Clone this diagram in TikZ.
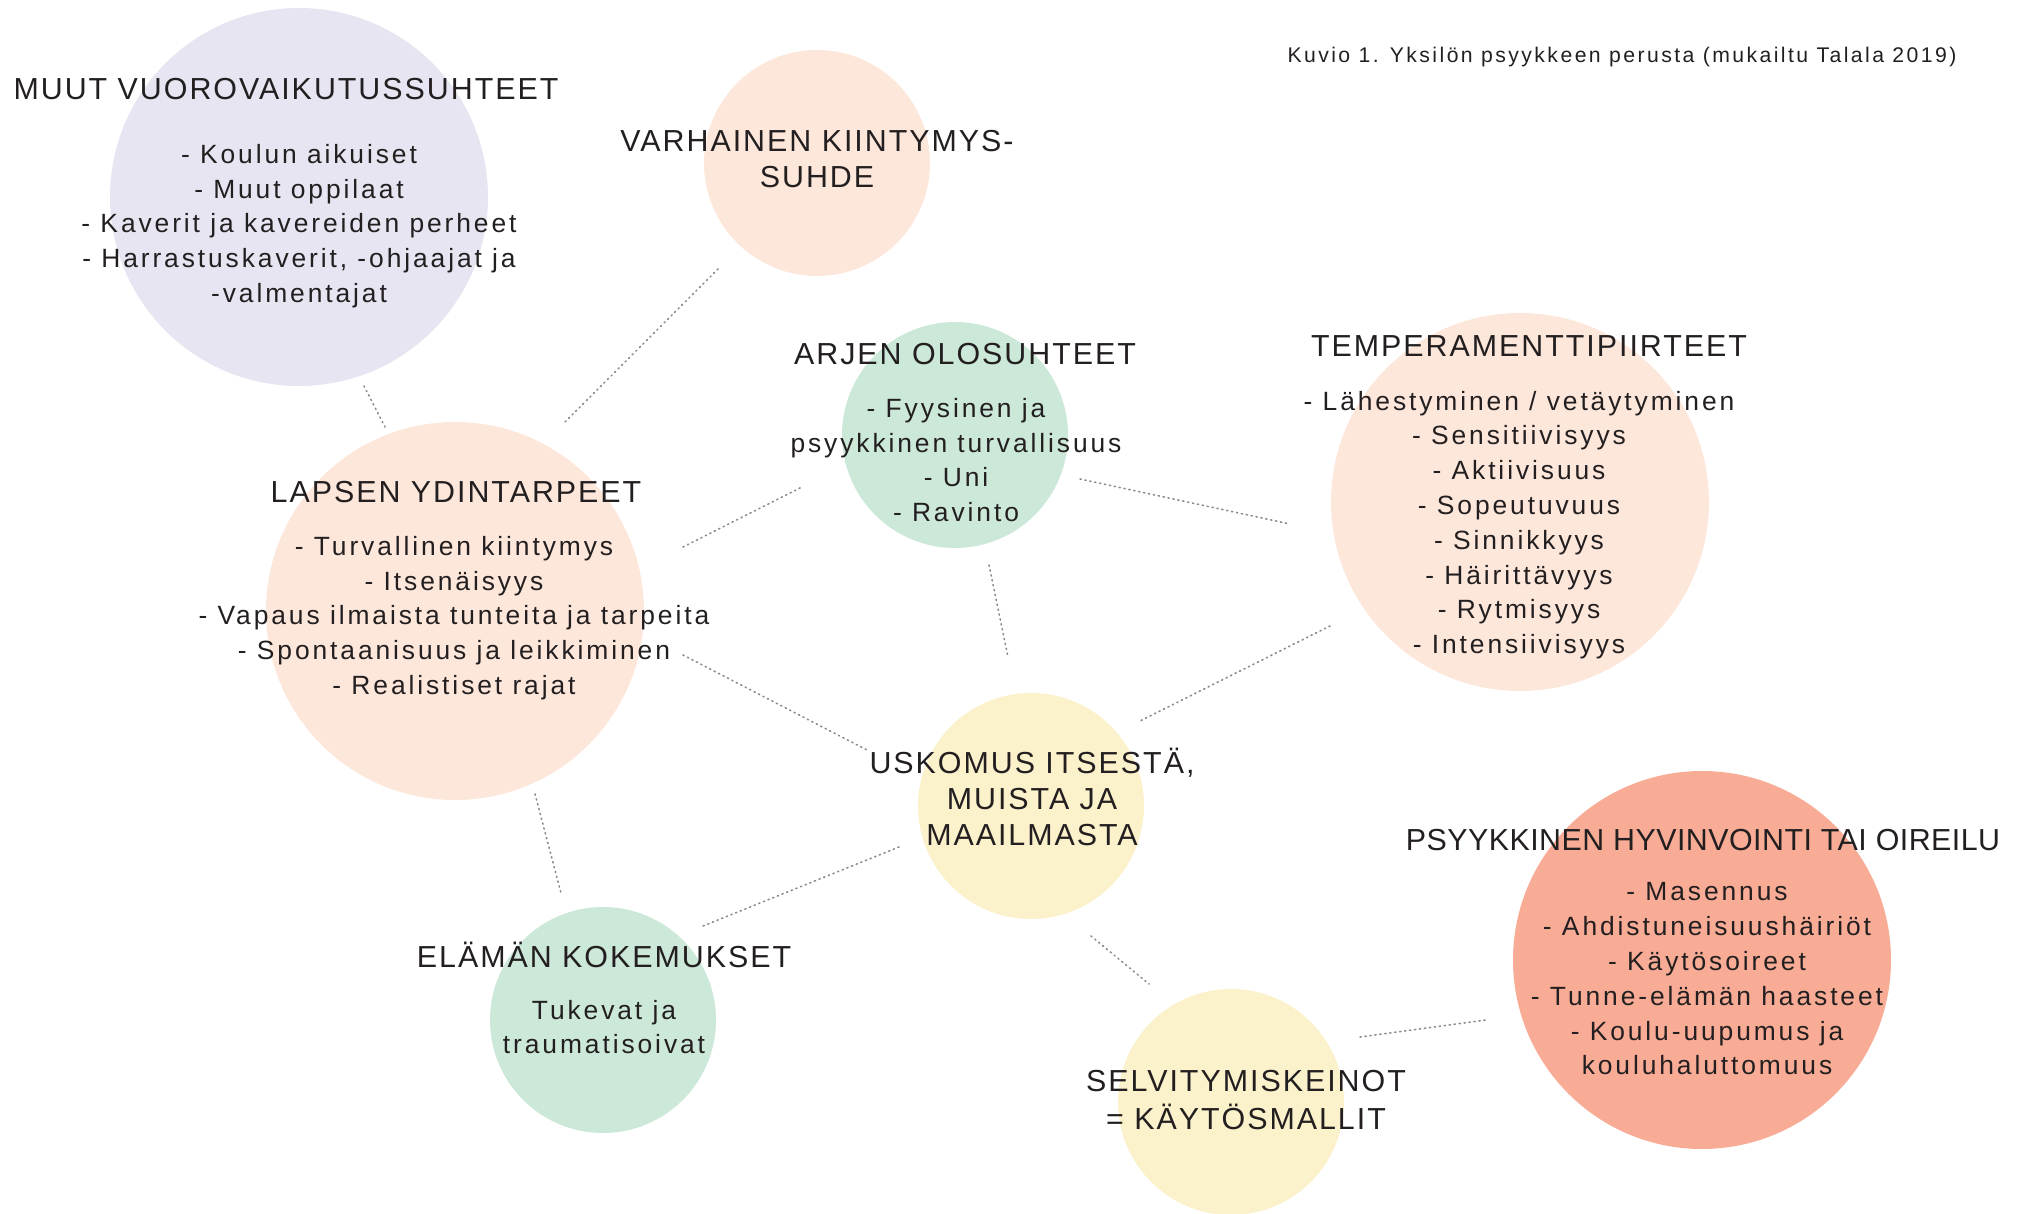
\documentclass[tikz,border=0pt]{standalone}
\usepackage{fontspec}
\setmainfont{Liberation Sans}
\newfontfamily\hdfont{Liberation Sans}[LetterSpace=6.5]
\newfontfamily\hdtightfont{Liberation Sans}[LetterSpace=1.5]
\newfontfamily\bdfont{Liberation Sans}[LetterSpace=11]
\newfontfamily\ttlfont{Liberation Sans}[LetterSpace=11.5]
\definecolor{txt}{HTML}{231F20}
\definecolor{lav}{HTML}{E7E5F1}
\definecolor{peach}{HTML}{FDE7DB}
\definecolor{mint}{HTML}{CCE8D9}
\definecolor{butter}{HTML}{FBF1CB}
\definecolor{salmon}{HTML}{F8AC95}
\definecolor{dotgray}{HTML}{8A8A8A}
\tikzset{
  bigc/.style={circle,inner sep=0pt,minimum size=189pt,draw=none},
  smallc/.style={circle,inner sep=0pt,minimum size=113pt,draw=none},
  hd/.style={text=txt,align=center,font=\hdfont\fontsize{15.2}{17.8}\selectfont},
  hdtight/.style={text=txt,align=center,font=\hdtightfont\fontsize{15.2}{17.8}\selectfont},
  bd/.style={text=txt,align=center,font=\bdfont\fontsize{13.2}{17.4}\selectfont},
  ttl/.style={text=txt,font=\ttlfont\fontsize{10.6}{12}\selectfont},
  link/.style={draw=dotgray,line width=0.8pt,dash pattern=on 0.6pt off 1.9pt,line cap=round}
}
\begin{document}
\begin{tikzpicture}[x=0.5pt,y=-0.5pt]
\useasboundingbox (0,0) rectangle (2018,1214);
% circles
\node[bigc,fill=lav] (muut) at (299,197) {};
\node[smallc,fill=peach] (varh) at (817,163) {};
\node[smallc,fill=mint] (arjen) at (955,435) {};
\node[bigc,fill=peach] (temp) at (1520,502) {};
\node[bigc,fill=peach] (lapsen) at (455,611) {};
\node[smallc,fill=butter] (usk) at (1031,806) {};
\node[smallc,fill=mint] (elam) at (603,1020) {};
\node[smallc,fill=butter] (selv) at (1231,1102) {};
\node[bigc,fill=salmon] (psyyk) at (1702,960) {};
% connector end points
\coordinate (l1a) at (364,386); \coordinate (l1b) at (385,427);
\coordinate (l2a) at (718,269); \coordinate (l2b) at (564,423);
\coordinate (l3a) at (683,547); \coordinate (l3b) at (802,487);
\coordinate (l4a) at (1080,479); \coordinate (l4b) at (1290,524);
\coordinate (l5a) at (989,565); \coordinate (l5b) at (1008,657);
\coordinate (l6a) at (683,655); \coordinate (l6b) at (867,750);
\coordinate (l7a) at (1330,626); \coordinate (l7b) at (1138,722);
\coordinate (l8a) at (535,794); \coordinate (l8b) at (561,893);
\coordinate (l9a) at (899,847); \coordinate (l9b) at (703,926);
\coordinate (l10a) at (1091,936); \coordinate (l10b) at (1149,984);
\coordinate (l11a) at (1360,1037); \coordinate (l11b) at (1486,1020);
\draw[link] (l1a) -- (l1b);
\draw[link] (l2a) -- (l2b);
\draw[link] (l3a) -- (l3b);
\draw[link] (l4a) -- (l4b);
\draw[link] (l5a) -- (l5b);
\draw[link] (l6a) -- (l6b);
\draw[link] (l7a) -- (l7b);
\draw[link] (l8a) -- (l8b);
\draw[link] (l9a) -- (l9b);
\draw[link] (l10a) -- (l10b);
\draw[link] (l11a) -- (l11b);
% texts
\node[ttl] (title) at (1622,57) {Kuvio 1. Yksilön psyykkeen perusta (mukailtu Talala 2019)};
\node[hd] (muuth) at (286,89) {MUUT VUOROVAIKUTUSSUHTEET};
\node[bd] (muutb) at (299,226) {- Koulun aikuiset\\- Muut oppilaat\\- Kaverit ja kavereiden perheet\\- Harrastuskaverit, -ohjaajat ja\\-valmentajat};
\node[hd] (varhh) at (817,159) {VARHAINEN KIINTYMYS-\\SUHDE};
\node[hd] (arjenh) at (965,354) {ARJEN OLOSUHTEET};
\node[bd] (arjenb) at (956,460) {- Fyysinen ja\\psyykkinen turvallisuus\\- Uni\\- Ravinto};
\node[hd] (temph) at (1529,346) {TEMPERAMENTTIPIIRTEET};
\node[bd] (tempb) at (1519,525) {- Lähestyminen / vetäytyminen\\- Sensitiivisyys\\- Aktiivisuus\\- Sopeutuvuus\\- Sinnikkyys\\- Häirittävyys\\- Rytmisyys\\- Intensiivisyys};
\node[hd] (lapsenh) at (456,492) {LAPSEN YDINTARPEET};
\node[bd] (lapsenb) at (454,618) {- Turvallinen kiintymys\\- Itsenäisyys\\- Vapaus ilmaista tunteita ja tarpeita\\- Spontaanisuus ja leikkiminen\\- Realistiset rajat};
\node[hd] (uskh) at (1032,797) {USKOMUS ITSESTÄ,\\MUISTA JA\\MAAILMASTA};
\node[hd] (elamh) at (604,955) {ELÄMÄN KOKEMUKSET};
\node[bd] (elamb) at (604,1027) {Tukevat ja\\traumatisoivat};
\node[hd,font=\hdfont\fontsize{15.2}{18.6}\selectfont] (selvh) at (1246,1100) {SELVITYMISKEINOT\\= KÄYTÖSMALLIT};
\node[hdtight] (psyykh) at (1703,840) {PSYYKKINEN HYVINVOINTI TAI OIREILU};
\node[bd] (psyykb) at (1707,979) {- Masennus\\- Ahdistuneisuushäiriöt\\- Käytösoireet\\- Tunne-elämän haasteet\\- Koulu-uupumus ja\\kouluhaluttomuus};
\end{tikzpicture}
\end{document}
